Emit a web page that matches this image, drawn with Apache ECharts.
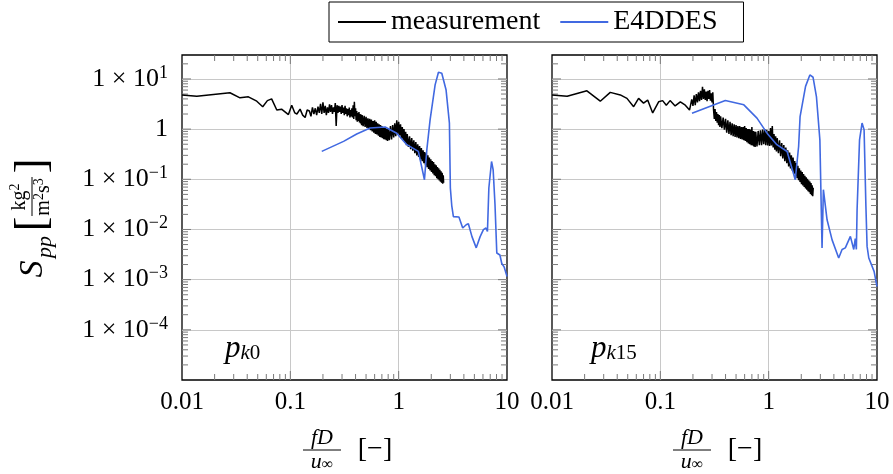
<!DOCTYPE html>
<html>
<head>
<meta charset="utf-8">
<script src="https://cdn.jsdelivr.net/npm/echarts@6/dist/echarts.min.js"></script>
<style>
  html, body { margin: 0; padding: 0; background: #fff; }
  #chart { width: 893px; height: 474px; }
</style>
</head>
<body>
<div id="chart"></div>
<script>
// Tick labels of the frequency axis (one per decade, 0.01 .. 10)
const xTickLabels = ['0.01', '0.1', '1', '10'];
// Probe names, drawn as p_{k..}
const probeSubscripts = ['0', '15'];
const seriesNames = ['measurement', 'E4DDES'];

// Probe k0: measured pressure spectrum [fD/u, Spp]
const measurementK0 = [
  [0.01,4.8],[0.0137,4.5],[0.0277,5.3],[0.0343,4.2],[0.041,4.4],[0.049,3.6],[0.0556,2.8],
  [0.0614,3.7],[0.0672,4.0],[0.075,2.4],[0.083,2.5],[0.096,1.95],[0.103,3.0],[0.11,2.1],
  [0.115,2.0],[0.123,2.5],[0.13,1.9],[0.137,1.7],[0.143,2.4],
  [0.150,2.3],[0.155,1.8],[0.160,2.7],[0.165,2.0],[0.170,2.6],[0.175,1.9],[0.180,2.8],
  [0.185,2.1],[0.190,3.2],[0.195,2.0],[0.200,3.4],[0.205,2.1],[0.210,2.9],[0.215,1.9],
  [0.220,2.7],[0.225,2.1],[0.230,3.1],[0.235,2.2],[0.240,3.0],[0.245,2.0],[0.250,2.7],
  [0.255,2.2],[0.260,3.3],[0.265,1.15],[0.270,3.0],[0.275,2.1],[0.280,2.9],[0.285,2.2],
  [0.290,2.8],[0.295,2.0],[0.300,3.0],[0.305,2.1],[0.310,2.7],[0.315,1.9],[0.320,2.9],
  [0.325,2.0],[0.330,2.6],[0.335,1.8],[0.340,2.5],[0.345,1.9],[0.350,2.7],[0.355,1.7],
  [0.360,2.4],[0.365,1.8],[0.370,2.6],[0.375,1.7],[0.380,3.0],[0.385,1.6],[0.390,3.5],
  [0.395,1.8],[0.400,2.6],[0.405,1.5],[0.41,2.3],[0.415,1.4],[0.42,2.1],[0.425,1.45],
  [0.43,2.2],[0.435,1.35],[0.44,2.0],[0.445,1.3],[0.45,1.95],[0.455,1.2],[0.46,1.9],
  [0.47,1.15],[0.48,1.85],[0.49,1.1],[0.50,1.75],[0.51,1.05],[0.52,1.65],[0.53,1.0],
  [0.54,1.6],[0.55,0.95],[0.56,1.55],[0.57,0.9],[0.58,1.45],[0.59,0.85],[0.60,1.5],
  [0.61,0.8],[0.62,1.4],[0.63,0.78],[0.64,1.3],[0.65,0.74],[0.66,1.25],[0.67,0.7],
  [0.68,1.2],[0.69,0.68],[0.70,1.15],[0.71,0.66],[0.72,1.1],[0.73,0.63],[0.74,1.1],
  [0.75,0.62],[0.76,1.05],[0.77,0.6],[0.78,1.0],[0.79,0.58],[0.80,1.0],[0.82,0.6],
  [0.84,1.15],[0.86,0.62],[0.88,1.2],[0.90,0.68],[0.92,1.3],[0.94,0.72],[0.96,1.5],
  [0.98,0.8],[1.00,1.4],[1.02,0.75],[1.04,1.25],[1.06,0.66],[1.08,1.1],[1.10,0.6],
  [1.12,1.0],[1.14,0.53],[1.16,0.88],[1.18,0.48],[1.20,0.8],[1.23,0.44],[1.26,0.72],
  [1.29,0.4],[1.32,0.66],[1.35,0.37],[1.38,0.6],[1.41,0.33],[1.44,0.55],[1.47,0.3],
  [1.50,0.5],[1.53,0.28],[1.56,0.46],[1.59,0.25],[1.62,0.42],[1.65,0.23],[1.68,0.38],
  [1.71,0.21],[1.74,0.35],[1.77,0.19],[1.80,0.33],[1.83,0.175],[1.86,0.3],[1.89,0.16],
  [1.92,0.27],[1.95,0.15],[1.98,0.25],[2.01,0.14],[2.04,0.23],[2.07,0.13],[2.10,0.22],
  [2.13,0.12],[2.16,0.2],[2.19,0.115],[2.22,0.19],[2.25,0.105],[2.28,0.175],[2.31,0.1],
  [2.34,0.165],[2.37,0.095],[2.40,0.155],[2.43,0.09],[2.46,0.145],[2.49,0.085],
  [2.52,0.135],[2.55,0.082],[2.58,0.12],[2.60,0.085]
];

// Probe k0: E4DDES simulation spectrum
const simulationK0 = [
  [0.195,0.36],[0.31,0.57],[0.41,0.8],[0.545,1.05],[0.75,1.1],[0.96,0.83],[1.19,0.49],
  [1.52,0.36],[1.58,0.33],[1.73,0.098],[1.82,0.39],[1.95,1.53],[2.17,7.6],[2.33,13.6],
  [2.5,13],[2.74,6.0],[2.94,1.32],[3.0,0.067],[3.09,0.03],[3.2,0.018],[3.6,0.0177],
  [3.9,0.0107],[4.2,0.0124],[4.4,0.013],[4.75,0.0072],[5.2,0.0043],[5.65,0.0072],
  [6.06,0.0099],[6.4,0.0107],[6.6,0.0091],[6.8,0.067],[7.2,0.226],[7.45,0.155],
  [7.75,0.031],[8.05,0.0034],[8.6,0.0031],[8.95,0.0021],[9.4,0.0018],[10,0.00115]
];

// Probe k15: measured pressure spectrum
const measurementK15 = [
  [0.01,4.8],[0.0138,4.5],[0.021,5.8],[0.0279,3.6],[0.0345,5.4],[0.0427,4.8],[0.0492,4.1],
  [0.0567,2.8],[0.063,4.1],[0.07,3.3],[0.0764,3.8],[0.085,2.1],[0.0964,3.5],[0.105,3.7],
  [0.1135,3.0],[0.123,3.7],[0.137,2.9],[0.153,3.5],[0.17,3.0],[0.186,2.4],
  [0.190,2.2],[0.195,3.9],[0.200,2.9],[0.205,4.7],[0.210,3.0],[0.215,5.0],[0.220,3.4],
  [0.225,5.4],[0.230,3.6],[0.235,5.8],[0.240,3.8],[0.245,7.0],[0.250,4.0],[0.255,6.2],
  [0.260,3.8],[0.265,5.6],[0.270,3.6],[0.275,5.8],[0.280,4.0],[0.285,6.0],[0.290,3.7],
  [0.295,5.2],[0.300,3.4],[0.305,5.4],[0.310,2.4],[0.315,1.6],[0.320,2.5],[0.325,1.45],
  [0.330,2.2],[0.335,1.35],[0.340,2.0],[0.345,1.2],[0.350,1.9],[0.355,1.1],[0.360,1.8],
  [0.37,1.05],[0.38,1.7],[0.39,0.98],[0.40,1.6],[0.41,0.85],[0.42,1.5],[0.43,0.8],
  [0.44,1.4],[0.45,0.76],[0.46,1.3],[0.47,0.72],[0.48,1.25],[0.49,0.7],[0.50,1.2],
  [0.51,0.68],[0.52,1.15],[0.53,0.66],[0.54,1.15],[0.55,0.64],[0.56,1.1],[0.57,0.62],
  [0.58,1.1],[0.59,0.6],[0.60,1.15],[0.61,0.58],[0.62,1.05],[0.63,0.55],[0.64,1.0],
  [0.65,0.52],[0.66,1.0],[0.67,0.5],[0.68,0.98],[0.69,0.48],[0.70,1.1],[0.71,0.47],
  [0.72,0.92],[0.73,0.45],[0.74,0.9],[0.75,0.44],[0.76,0.88],[0.78,0.45],[0.80,0.92],
  [0.82,0.48],[0.84,0.95],[0.86,0.48],[0.88,0.98],[0.90,0.5],[0.92,1.0],[0.94,0.48],
  [0.96,0.97],[0.98,0.47],[1.00,0.92],[1.02,0.46],[1.04,1.05],[1.06,0.47],[1.08,1.15],
  [1.10,0.43],[1.12,0.8],[1.14,0.39],[1.16,0.72],[1.18,0.36],[1.20,0.66],[1.23,0.33],
  [1.26,0.6],[1.29,0.29],[1.32,0.53],[1.35,0.26],[1.38,0.48],[1.41,0.23],[1.44,0.43],
  [1.47,0.21],[1.50,0.38],[1.53,0.18],[1.56,0.34],[1.59,0.165],[1.62,0.3],[1.65,0.15],
  [1.68,0.27],[1.71,0.13],[1.74,0.23],[1.77,0.118],[1.80,0.21],[1.83,0.105],[1.86,0.185],
  [1.89,0.096],[1.92,0.165],[1.95,0.088],[1.98,0.15],[2.01,0.08],[2.04,0.14],[2.07,0.075],
  [2.10,0.128],[2.13,0.07],[2.16,0.118],[2.19,0.066],[2.22,0.11],[2.25,0.062],[2.28,0.102],
  [2.31,0.058],[2.34,0.095],[2.37,0.055],[2.40,0.09],[2.43,0.051],[2.46,0.084],
  [2.49,0.048],[2.52,0.076],[2.55,0.046],[2.58,0.068]
];

// Probe k15: E4DDES simulation spectrum
const simulationK15 = [
  [0.196,2.08],[0.398,3.71],[0.59,3.05],[0.78,1.66],[0.966,0.83],[1.19,0.49],[1.48,0.358],
  [1.76,0.098],[1.89,0.45],[1.95,1.78],[2.19,7.1],[2.4,12],[2.57,10.8],[2.76,4.46],
  [2.97,0.61],[3.11,0.0043],[3.2,0.062],[3.46,0.0156],[3.85,0.0062],[4.43,0.0027],
  [4.76,0.004],[5.1,0.0043],[5.68,0.0073],[6.1,0.004],[6.3,0.0066],[6.45,0.004],
  [6.55,0.025],[6.9,0.61],[7.28,1.32],[7.6,0.97],[7.9,0.029],[8.1,0.0046],[8.4,0.0027],
  [9.4,0.00146],[10,0.00073]
];

// Decade positions and the in-between factors used for the minor ticks
const xDecades = [0.01, 0.1, 1, 10];
const yDecades = [1e-5, 1e-4, 1e-3, 1e-2, 1e-1, 1, 10];
const minorFactors = [2, 3, 4, 5, 6, 7, 8, 9];

const X_MIN = 0.01, X_MAX = 10, Y_MIN = 1e-5, Y_MAX = 30;
const SERIF = 'Liberation Serif';
const BLUE = '#4169e1';
const GRID_LEFT = [182, 552];

// Tick marks drawn on all four sides of each frame
function tickItems() {
  const out = [];
  xDecades.forEach(d => {
    if (d > X_MIN && d < X_MAX) out.push([d, Y_MIN, 0, 9]);
    if (d < X_MAX) minorFactors.forEach(k => out.push([k * d, Y_MIN, 0, 6]));
  });
  yDecades.forEach(d => {
    if (d > Y_MIN && d < Y_MAX) out.push([X_MIN, d, 1, 9]);
    minorFactors.forEach(k => { if (k * d < Y_MAX) out.push([X_MIN, k * d, 1, 6]); });
  });
  return out;
}

function renderTick(params, api) {
  const kind = api.value(2), len = api.value(3);
  const style = { stroke: '#7a7a7a', lineWidth: 1 };
  let s1, s2;
  if (kind === 0) {
    const v = api.value(0);
    const a = api.coord([v, Y_MIN]), b = api.coord([v, Y_MAX]);
    s1 = { x1: a[0], y1: a[1], x2: a[0], y2: a[1] - len };
    s2 = { x1: b[0], y1: b[1], x2: b[0], y2: b[1] + len };
  } else {
    const v = api.value(1);
    const a = api.coord([X_MIN, v]), b = api.coord([X_MAX, v]);
    s1 = { x1: a[0], y1: a[1], x2: a[0] + len, y2: a[1] };
    s2 = { x1: b[0], y1: b[1], x2: b[0] - len, y2: b[1] };
  }
  return { type: 'group', children: [
    { type: 'line', shape: s1, style },
    { type: 'line', shape: s2, style }
  ] };
}

function yLabel(v) {
  const lg = Math.log10(v);
  const e = Math.round(lg);
  if (Math.abs(lg - e) > 0.01 || e <= -5) return '';
  if (e === 0) return '{b|1}';
  return '{b|1 × 10}{s|' + String(e).replace('-', '−') + '}';
}

function xLabel(v) {
  const lg = Math.log10(v);
  const e = Math.round(lg);
  if (Math.abs(lg - e) > 0.01) return '';
  return xTickLabels[e + 2] || '';
}

const grids = GRID_LEFT.map(l => ({
  left: l, top: 55, width: 325, height: 325,
  show: true, borderColor: '#000', borderWidth: 1.3, backgroundColor: 'transparent'
}));

const xAxes = GRID_LEFT.map((l, i) => ({
  type: 'log', gridIndex: i, min: X_MIN, max: X_MAX, logBase: 10, splitNumber: 3,
  axisLine: { show: false }, axisTick: { show: false },
  splitLine: { show: true, showMinLine: false, showMaxLine: false, lineStyle: { color: '#c8c8c8', width: 1 } },
  axisLabel: {
    formatter: xLabel, fontFamily: SERIF, fontSize: 25, color: '#000', margin: 10,
    showMinLabel: true, showMaxLabel: true, hideOverlap: false
  }
}));

const yAxes = GRID_LEFT.map((l, i) => ({
  type: 'log', gridIndex: i, min: Y_MIN, max: Y_MAX, logBase: 10, splitNumber: 6,
  axisLine: { show: false }, axisTick: { show: false },
  splitLine: { show: true, showMinLine: false, showMaxLine: false, lineStyle: { color: '#c8c8c8', width: 1 } },
  axisLabel: {
    show: i === 0, formatter: yLabel, margin: 14, align: 'right',
    rich: {
      b: { fontFamily: SERIF, fontSize: 26, color: '#000', lineHeight: 30 },
      s: { fontFamily: SERIF, fontSize: 18, color: '#000', lineHeight: 17, verticalAlign: 'top' }
    }
  }
}));

const lineSeries = (name, data, idx, color, width) => ({
  name, type: 'line', xAxisIndex: idx, yAxisIndex: idx, data,
  showSymbol: false, symbol: 'none', z: 3,
  lineStyle: { color, width }, itemStyle: { color }, emphasis: { disabled: true }
});

const series = [
  lineSeries(seriesNames[0], measurementK0, 0, '#000', 1.5),
  lineSeries(seriesNames[0], measurementK15, 1, '#000', 1.5),
  lineSeries(seriesNames[1], simulationK0, 0, BLUE, 1.6),
  lineSeries(seriesNames[1], simulationK15, 1, BLUE, 1.6),
  ...GRID_LEFT.map((l, i) => ({
    type: 'custom', xAxisIndex: i, yAxisIndex: i, data: tickItems(),
    encode: { x: 0, y: 1 }, renderItem: renderTick, silent: true, z: 2, clip: false
  }))
];

// Panel tags p_{k0}, p_{k15}
const tagRich = {
  p: { fontFamily: SERIF, fontStyle: 'italic', fontSize: 31, lineHeight: 30, fill: '#000' },
  k: { fontFamily: SERIF, fontStyle: 'italic', fontSize: 21, lineHeight: 20, verticalAlign: 'bottom', fill: '#000' },
  n: { fontFamily: SERIF, fontSize: 21, lineHeight: 20, verticalAlign: 'bottom', fill: '#000' }
};
const tags = probeSubscripts.map((sub, i) => ({
  type: 'text', x: [225, 591][i], y: 334,
  style: { text: '{p|p}{k|k}{n|' + sub + '}', rich: tagRich }
}));

// Plain centred text helper for the axis titles
const txt = (x, y, text, size, extra) => ({
  type: 'text', x, y,
  style: Object.assign({ text, fontFamily: SERIF, fontSize: size, fill: '#000', align: 'center', verticalAlign: 'middle' }, extra || {})
});
const supRich = size => ({
  a: { fontFamily: SERIF, fontSize: size, lineHeight: size + 4, fill: '#000' },
  s: { fontFamily: SERIF, fontSize: Math.round(size * 0.7), lineHeight: Math.round(size * 0.7), verticalAlign: 'top', fill: '#000' }
});

// Frequency axis titles: fD/u_inf [-]
const xTitles = GRID_LEFT.map(l => {
  const c = l + 140;
  return { type: 'group', children: [
    txt(c, 438, 'fD', 22, { fontStyle: 'italic' }),
    { type: 'line', shape: { x1: c - 19, y1: 450, x2: c + 19, y2: 450 }, style: { stroke: '#000', lineWidth: 1 } },
    { type: 'text', x: c, y: 462, style: {
      text: '{u|u}{i|∞}', align: 'center', verticalAlign: 'middle',
      rich: {
        u: { fontFamily: SERIF, fontStyle: 'italic', fontSize: 22, lineHeight: 22, fill: '#000' },
        i: { fontFamily: SERIF, fontSize: 16, lineHeight: 15, verticalAlign: 'bottom', fill: '#000' }
      } } },
    txt(c + 53, 450, '[−]', 28)
  ] };
});

// Spectrum axis title: S_pp [kg^2 / (m^2 s^3)], rotated
const yTitle = {
  type: 'group', x: 37, y: 218, rotation: Math.PI / 2,
  children: [
    txt(-51, -4, 'S', 34, { fontStyle: 'italic' }),
    txt(-29, 8, 'pp', 22, { fontStyle: 'italic' }),
    txt(-6, -4, '[', 44),
    { type: 'text', x: 21, y: -17, style: { text: '{a|kg}{s|2}', align: 'center', verticalAlign: 'middle', rich: supRich(20) } },
    { type: 'line', shape: { x1: 2, y1: -5, x2: 41, y2: -5 }, style: { stroke: '#000', lineWidth: 1 } },
    { type: 'text', x: 21, y: 7, style: { text: '{a|m}{s|2}{a|s}{s|3}', align: 'center', verticalAlign: 'middle', rich: supRich(20) } },
    txt(52, -4, ']', 44)
  ]
};

const chart = echarts.init(document.getElementById('chart'), null, { renderer: 'canvas' });
chart.setOption({
  animation: false,
  backgroundColor: '#fff',
  legend: {
    data: seriesNames, left: 329, top: 2,
    padding: [6, 26, 6, 9], itemGap: 20, itemWidth: 48, itemHeight: 2, icon: 'rect',
    borderColor: '#000', borderWidth: 1, selectedMode: false,
    textStyle: { fontFamily: SERIF, fontSize: 28, color: '#000' }
  },
  grid: grids,
  xAxis: xAxes,
  yAxis: yAxes,
  series,
  graphic: [...tags, ...xTitles, yTitle]
});
</script>
</body>
</html>
